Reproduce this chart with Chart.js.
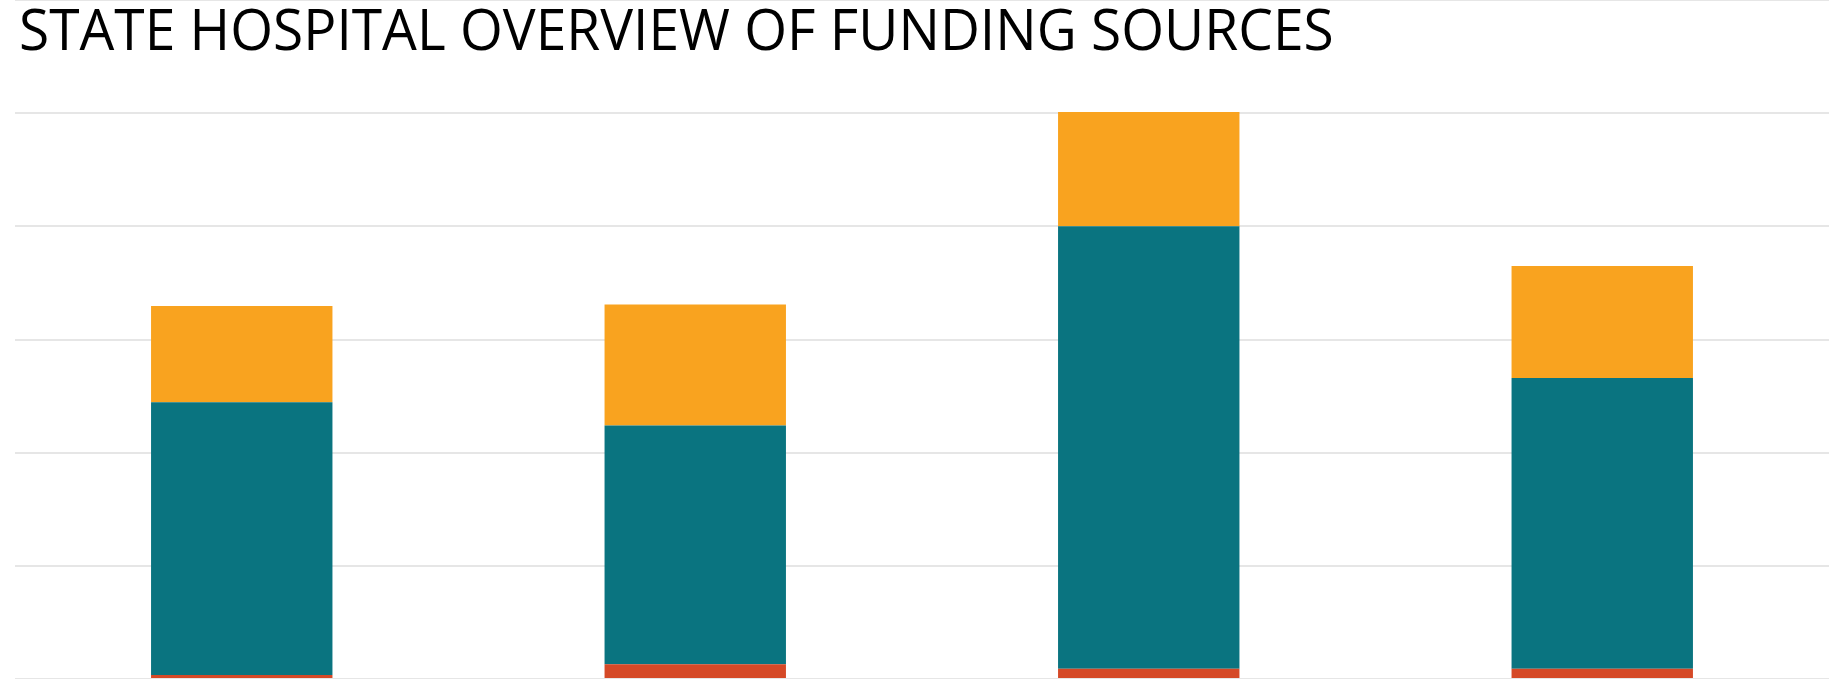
<!DOCTYPE html>
<html>
<head>
<meta charset="utf-8">
<script src="https://cdn.jsdelivr.net/npm/chart.js@4"></script>
<style>
    html, body { margin: 0; padding: 0; background: #fff; overflow: hidden; }
    #wrap { position: relative; width: 1829px; height: 679px; }
    #title {
        position: absolute; left: 19px; top: 0px;
        font-family: "Open Sans", sans-serif; font-size: 56px; line-height: 56px;
        color: #000; white-space: nowrap; transform-origin: 0 0; z-index: 2;
    }
</style>
</head>
<body>
<div id="wrap">
    <div id="title">STATE HOSPITAL OVERVIEW OF FUNDING SOURCES</div>
    <canvas id="myChart" width="1829" height="679"></canvas>
</div>
<script>
const labels = ['Hospital 1', 'Hospital 2', 'Hospital 3', 'Hospital 4'];

// stacked bottom to top, in tens of millions
const otherFunds = [0.35, 1.3, 0.9, 0.9];
const generalFund = [24.1, 21.1, 39.1, 25.7];
const federalFunds = [8.5, 10.7, 10.1, 9.9];

const yMax = 60;
const yStep = 10;

// fit title width to reference
const titleEl = document.getElementById('title');
const targetWidth = 1315;
titleEl.style.transform = 'scaleX(' + (targetWidth / titleEl.scrollWidth) + ')';

const data = {
    labels: labels,
    datasets: [{
        label: 'Other',
        backgroundColor: '#D54927',
        data: otherFunds,
    }, {
        label: 'General Fund',
        backgroundColor: '#0A7480',
        data: generalFund,
    }, {
        label: 'Federal',
        backgroundColor: '#F9A31F',
        data: federalFunds,
    }]
};

const config = {
    type: 'bar',
    data: data,
    options: {
        responsive: false,
        animation: false,
        barPercentage: 0.4,
        categoryPercentage: 1,
        layout: { padding: { left: 15, right: 0, top: 0, bottom: 0 } },
        plugins: {
            legend: { display: false },
            tooltip: { enabled: false }
        },
        scales: {
            x: { stacked: true, display: false },
            y: {
                stacked: true,
                min: 0,
                max: yMax,
                ticks: { display: false, stepSize: yStep },
                border: { display: false },
                grid: { color: '#e6e6e6', lineWidth: 2, drawTicks: false }
            }
        }
    }
};

const myChart = new Chart(
    document.getElementById('myChart'),
    config
);
</script>
</body>
</html>
